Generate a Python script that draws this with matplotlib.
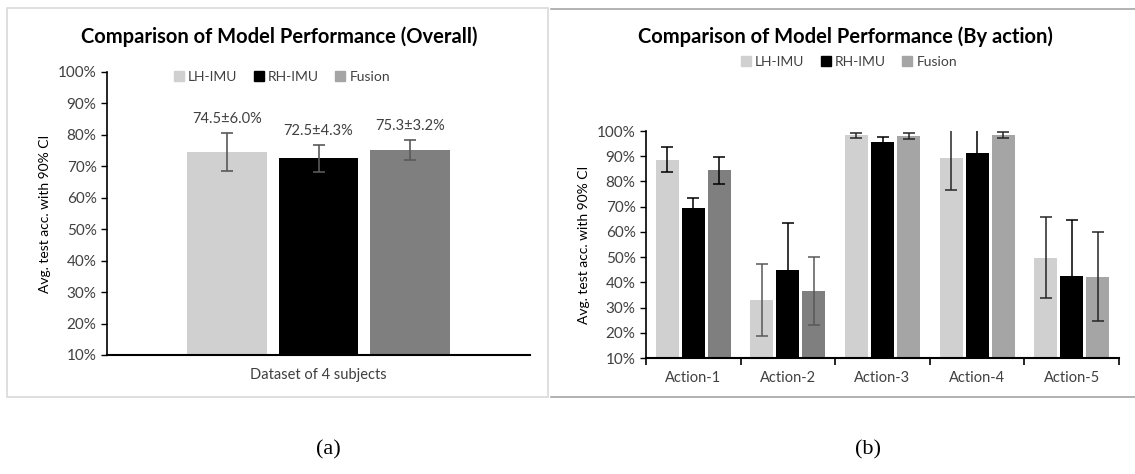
import matplotlib
matplotlib.use('Agg')
import matplotlib.pyplot as plt
import numpy as np
from matplotlib.patches import Rectangle, Patch
from matplotlib.lines import Line2D

plt.rcParams['font.family'] = ['Lato', 'DejaVu Sans']

# ---------- data ----------
models = ['LH-IMU', 'RH-IMU', 'Fusion']

# (a) overall
overall_cat = ['Dataset of 4 subjects']
overall_mean = [74.5, 72.5, 75.3]
overall_ci = [6.0, 4.3, 3.2]

# (b) per action
actions = ['Action-1', 'Action-2', 'Action-3', 'Action-4', 'Action-5']
lh_mean = [88.6, 33.0, 98.3, 89.3, 49.8]
lh_ci = [4.9, 14.4, 0.9, 12.8, 16.2]
rh_mean = [69.4, 44.9, 95.6, 91.4, 42.4]
rh_ci = [4.0, 18.7, 2.0, 10.0, 22.4]
fu_mean = [84.4, 36.6, 98.0, 98.6, 42.2]
fu_ci = [5.4, 13.5, 1.1, 1.2, 17.6]

# ---------- styles ----------
c_lh = '#d0d0d0'
c_rh = '#000000'
c_fu_dark = '#7f7f7f'
c_fu_light = '#a5a5a5'
txt_grey = '#404040'

fig = plt.figure(figsize=(11.35, 4.74), dpi=100)

# panel frames
fig.patches.append(Rectangle((7 / 1135, 1 - 397 / 474), 541 / 1135, 389 / 474,
                             transform=fig.transFigure, fill=False,
                             edgecolor='#d9d9d9', linewidth=1.2))
for yy in (9, 397):
    fig.lines.append(Line2D([551 / 1135, 1.0], [1 - yy / 474] * 2,
                            transform=fig.transFigure, color='#a6a6a6',
                            linewidth=1.2))

yticks = np.arange(10, 101, 10)
ylabels = ['%d%%' % v for v in yticks]


def style_axes(ax):
    for s in ('top', 'right'):
        ax.spines[s].set_visible(False)
    ax.spines['left'].set_linewidth(1.2)
    ax.spines['bottom'].set_linewidth(1.5)
    ax.set_ylim(10, 100)
    ax.set_yticks(yticks)
    ax.set_yticklabels(ylabels, fontsize=11, color=txt_grey)
    ax.tick_params(axis='y', direction='out', length=4, width=1)
    ax.set_ylabel('Avg. test acc. with 90% CI', fontsize=10, color='#000000')


# ---------- (a) ----------
ax1 = fig.add_axes([107 / 1135, 1 - 355 / 474, 423 / 1135, 283 / 474])
x = np.arange(len(overall_cat))
w = 0.189
step = 0.216
cols_a = [c_lh, c_rh, c_fu_dark]
for i in range(3):
    xi = x + (i - 1) * step
    ax1.bar(xi, [overall_mean[i]], width=w, color=cols_a[i], zorder=2)
    ax1.errorbar(xi, [overall_mean[i]], yerr=[overall_ci[i]], fmt='none',
                 ecolor='#595959', elinewidth=1.2, capsize=4, capthick=1.2, zorder=3)
    ax1.annotate('%.1f\u00b1%.1f%%' % (overall_mean[i], overall_ci[i]),
                 (xi[0], overall_mean[i] + overall_ci[i]),
                 xytext=(0, 10), textcoords='offset points',
                 ha='center', va='center', fontsize=10.5, color=txt_grey)
ax1.set_xlim(-0.5, 0.5)
ax1.set_xticks(x)
ax1.set_xticklabels(overall_cat, fontsize=10.5, color=txt_grey)
ax1.tick_params(axis='x', length=0, pad=9)
style_axes(ax1)
ax1.yaxis.set_label_coords(-0.132, 0.5)

fig.text(279 / 1135, 1 - 37 / 474, 'Comparison of Model Performance (Overall)',
         ha='center', va='center', fontsize=14.5, fontweight='bold')
leg_handles = [Patch(color=c_lh), Patch(color=c_rh), Patch(color=c_fu_light)]
fig.legend(leg_handles, models, loc='center', bbox_to_anchor=(282 / 1135, 1 - 77 / 474),
           ncol=3, frameon=False, fontsize=10, handlelength=0.7, handleheight=0.7,
           handletextpad=0.3, columnspacing=1.2, labelcolor=txt_grey)

# ---------- (b) ----------
ax2 = fig.add_axes([646 / 1135, 1 - 358 / 474, 473 / 1135, 227 / 474])
xb = np.arange(len(actions))
w2 = 0.243
s2 = 0.275
fu_cols = [c_fu_dark, c_fu_dark, c_fu_light, c_fu_light, c_fu_light]
side_err = ['#000000', '#595959', '#262626', '#262626', '#262626']
series = [(lh_mean, lh_ci, [c_lh] * 5, side_err),
          (rh_mean, rh_ci, [c_rh] * 5, ['#000000'] * 5),
          (fu_mean, fu_ci, fu_cols, side_err)]
for i, (m, e, cs, ec) in enumerate(series):
    xi = xb + (i - 1) * s2
    ax2.bar(xi, m, width=w2, color=cs, zorder=2)
    for j in range(len(actions)):
        ax2.errorbar([xi[j]], [m[j]], yerr=[e[j]], fmt='none', ecolor=ec[j],
                     elinewidth=1.1, capsize=4, capthick=1.1, zorder=3)
ax2.set_xlim(-0.5, len(actions) - 0.5)
ax2.set_xticks(xb)
ax2.set_xticklabels(actions, fontsize=10.5, color=txt_grey)
ax2.set_xticks(np.arange(-0.5, len(actions)), minor=True)
ax2.tick_params(axis='x', which='major', length=0, pad=9)
ax2.tick_params(axis='x', which='minor', length=5, width=1.2, direction='out')
style_axes(ax2)
ax2.yaxis.set_label_coords(-0.118, 0.5)

fig.text(845 / 1135, 1 - 37 / 474, 'Comparison of Model Performance (By action)',
         ha='center', va='center', fontsize=14.5, fontweight='bold')
fig.legend(leg_handles, models, loc='center', bbox_to_anchor=(849 / 1135, 1 - 62 / 474),
           ncol=3, frameon=False, fontsize=10, handlelength=0.7, handleheight=0.7,
           handletextpad=0.3, columnspacing=1.2, labelcolor=txt_grey)

# captions
fig.text(328 / 1135, 1 - 450 / 474, '(a)', ha='center', va='center', fontsize=16,
         family=['Liberation Serif', 'DejaVu Serif'])
fig.text(868 / 1135, 1 - 450 / 474, '(b)', ha='center', va='center', fontsize=16,
         family=['Liberation Serif', 'DejaVu Serif'])

fig.savefig('out.png', dpi=100)
